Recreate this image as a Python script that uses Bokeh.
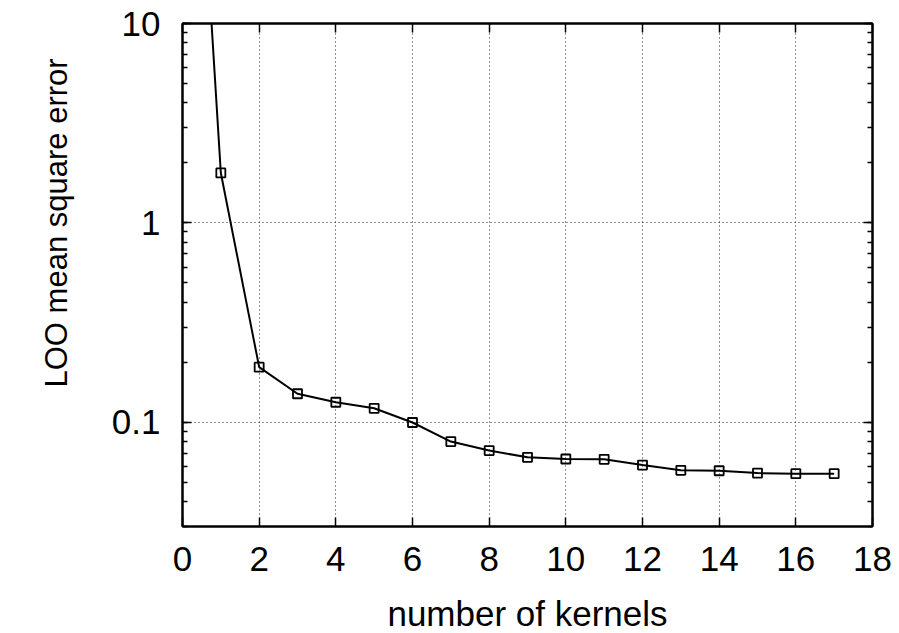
import math
from bokeh.plotting import figure
from bokeh.models import (LinearAxis, LogAxis, FixedTicker, LogTicker, CustomJSTickFormatter, Title)
from bokeh.embed import file_html
from bokeh.resources import INLINE

# ---- data ----
kernels = [0, 1, 2, 3, 4, 5, 6, 7, 8, 9, 10, 11, 12, 13, 14, 15, 16, 17]
loo_mse = [2200, 1.78, 0.189, 0.139, 0.126, 0.1175, 0.0997, 0.080, 0.0721, 0.0667,
           0.0654, 0.0652, 0.0610, 0.0574, 0.0571, 0.0556, 0.0552, 0.0552]
x_ticks = [0, 2, 4, 6, 8, 10, 12, 14, 16, 18]
x_label = "number of kernels"
y_label = "LOO mean square error"

FONT = "Liberation Sans"
FS = "35px"

p = figure(frame_width=690, frame_height=503, x_range=(0, 18), y_range=(0.03, 10),
           y_axis_type="log", output_backend="svg", toolbar_location=None,
           min_border_left=182, min_border_top=23, min_border_right=27, min_border_bottom=107)
p.background_fill_color = "white"
p.border_fill_color = "white"
p.outline_line_color = "black"
p.outline_line_width = 2

xt = FixedTicker(ticks=x_ticks)
yt = LogTicker(mantissas=[1], num_minor_ticks=10)
fmt = CustomJSTickFormatter(code="return String(Number(tick.toPrecision(6)));")

p.xaxis.ticker = xt
p.yaxis.ticker = yt
p.yaxis.formatter = fmt

for ax in p.xaxis + p.yaxis:
    ax.axis_line_color = "black"
    ax.axis_line_width = 2
    ax.major_tick_in = 9
    ax.major_tick_out = 0
    ax.major_tick_line_width = 1.5
    ax.minor_tick_in = 5
    ax.minor_tick_out = 0
    ax.minor_tick_line_width = 1.5
    ax.major_label_text_font = FONT
    ax.major_label_text_font_size = FS
    ax.major_label_text_color = "black"
    ax.axis_label_text_font = FONT
    ax.axis_label_text_font_size = FS
    ax.axis_label_text_font_style = "normal"
    ax.axis_label_text_color = "black"
p.xaxis.minor_tick_line_color = None
p.xaxis.major_label_standoff = 20
p.yaxis.major_label_standoff = 22
p.xaxis.axis_label = x_label
p.xaxis.axis_label_standoff = 20

# mirror axes
top = LinearAxis(ticker=xt, major_label_text_font_size="0px", major_label_text_color=None,
                 major_tick_in=9, major_tick_out=0, major_tick_line_width=1.5,
                 minor_tick_line_color=None, axis_line_width=2)
right = LogAxis(ticker=yt, formatter=fmt, major_label_text_font_size="0px", major_label_text_color=None,
                major_tick_in=9, major_tick_out=0, major_tick_line_width=1.5,
                minor_tick_in=5, minor_tick_out=0, minor_tick_line_width=1.5, axis_line_width=2)
p.add_layout(top, "above")
p.add_layout(right, "right")

for g in (p.xgrid, p.ygrid):
    g.grid_line_color = "#222222"
    g.grid_line_dash = "1 3"
    g.grid_line_width = 1
p.ygrid.ticker = yt
p.xgrid.ticker = xt

p.line(kernels, loo_mse, line_color="black", line_width=2)
p.scatter(kernels, loo_mse, marker="square", size=9, fill_color=None,
          line_color="black", line_width=1.8)

ytitle = Title(text=y_label, align="left", offset=139, standoff=70,
               text_font=FONT, text_font_size="31px", text_font_style="normal", text_color="black")
p.add_layout(ytitle, "left")

open("out.html", "w").write(file_html(p, INLINE))
